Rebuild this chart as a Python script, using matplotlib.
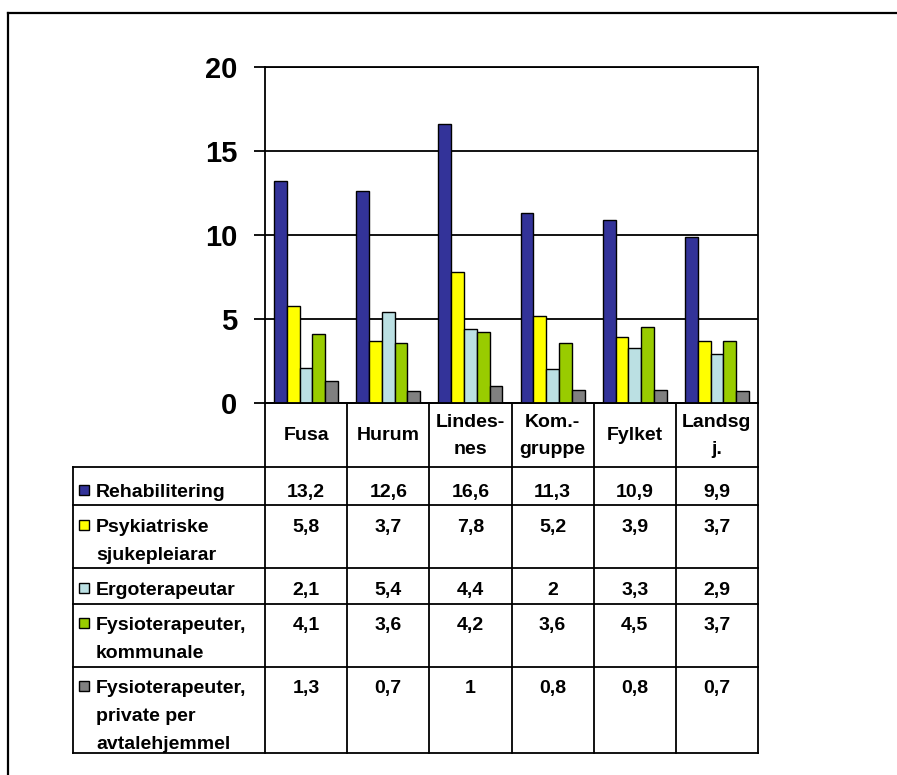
import matplotlib
matplotlib.use("Agg")
import matplotlib.pyplot as plt
from matplotlib.lines import Line2D
from matplotlib.patches import Rectangle
import matplotlib.transforms as mtransforms
import numpy as np

plt.rcParams['font.family'] = ['Liberation Sans', 'DejaVu Sans']

# ---- data ----
categories = ["Fusa", "Hurum", "Lindes-\nnes", "Kom.-\ngruppe", "Fylket", "Landsg\nj."]
series_names = [
    "Rehabilitering",
    "Psykiatriske\nsjukepleiarar",
    "Ergoterapeutar",
    "Fysioterapeuter,\nkommunale",
    "Fysioterapeuter,\nprivate per\navtalehjemmel",
]
rehabilitering = [13.2, 12.6, 16.6, 11.3, 10.9, 9.9]
psykiatriske = [5.8, 3.7, 7.8, 5.2, 3.9, 3.7]
ergoterapeutar = [2.1, 5.4, 4.4, 2, 3.3, 2.9]
fysio_kommunale = [4.1, 3.6, 4.2, 3.6, 4.5, 3.7]
fysio_private = [1.3, 0.7, 1, 0.8, 0.8, 0.7]
series_values = [rehabilitering, psykiatriske, ergoterapeutar, fysio_kommunale, fysio_private]
colors = ["#333399", "#FFFF00", "#BBE0E3", "#99CC00", "#808080"]
yticks = [0, 5, 10, 15, 20]

W, H = 897, 775
fig = plt.figure(figsize=(W / 100, H / 100), dpi=100)


def fy(y):
    return 1 - y / H


def fx(x):
    return x / W


# plot area in pixel coords
ax_l, ax_r, ax_t, ax_b = 265, 758, 67, 403
ax = fig.add_axes([fx(ax_l), fy(ax_b), (ax_r - ax_l) / W, (ax_b - ax_t) / H])

n_cat = len(categories)
n_ser = len(series_values)
x = np.arange(n_cat)
bw = 0.156
for i, (vals, c) in enumerate(zip(series_values, colors)):
    offs = (i - (n_ser - 1) / 2) * bw
    ax.bar(x + offs, vals, width=bw, color=c, edgecolor="black", linewidth=1.0, zorder=3)

ax.set_xlim(-0.5, n_cat - 0.5)
ax.set_ylim(0, 20)
ax.set_yticks(yticks)
ax.set_yticklabels([str(t) for t in yticks], fontsize=21, fontweight="bold")
ax.tick_params(axis="y", direction="out", length=8, width=1.3, pad=12)
ax.tick_params(axis="x", bottom=False, labelbottom=False)
ax.yaxis.grid(True, color="black", linewidth=1.3, zorder=1)
for s in ax.spines.values():
    s.set_linewidth(1.3)
    s.set_color("black")

# ---- data table below the plot ----
lw = 1.3
bt = mtransforms.blended_transform_factory(ax.transData, fig.transFigure)
ft = fig.transFigure


def hline(x0, x1, y):
    fig.add_artist(Line2D([fx(x0), fx(x1)], [fy(y), fy(y)], transform=ft, color="black", lw=lw))


def vline(xd, y0, y1):
    fig.add_artist(Line2D([xd, xd], [fy(y0), fy(y1)], transform=bt, color="black", lw=lw))


label_left = 73
row_edges = [467, 505, 568, 604, 667, 753]
row_base = [497, 532, 595, 630, 693]
line_step = 28
font_kw = dict(fontsize=14, fontweight="bold")

# header row (category names)
hline(ax_l, ax_r, 403)
for k in range(n_cat + 1):
    vline(k - 0.5, 403, row_edges[-1])
for k, cat in enumerate(categories):
    lines = cat.split("\n")
    if len(lines) == 1:
        bases = [440]
    else:
        bases = [427, 454]
    for ln, b in zip(lines, bases):
        fig.text(k, fy(b), ln, transform=bt, ha="center", va="baseline", **font_kw)

# data rows
for y in row_edges:
    hline(label_left, ax_r, y)
fig.add_artist(Line2D([fx(label_left)] * 2, [fy(row_edges[0]), fy(row_edges[-1])],
                      transform=ft, color="black", lw=lw))

for r, (name, vals, c) in enumerate(zip(series_names, series_values, colors)):
    b0 = row_base[r]
    # legend key
    fig.add_artist(Rectangle((fx(79), fy(b0 - 2)), 10 / W, 10 / H, transform=ft,
                             facecolor=c, edgecolor="black", lw=1.0))
    for j, ln in enumerate(name.split("\n")):
        fig.text(fx(96), fy(b0 + j * line_step), ln, ha="left", va="baseline", **font_kw)
    for k, v in enumerate(vals):
        txt = f"{v:g}".replace(".", ",")
        fig.text(k, fy(b0), txt, transform=bt, ha="center", va="baseline", **font_kw)

# outer frame (top and left edges)
fig.add_artist(Line2D([fx(8), 1.0], [fy(13), fy(13)], transform=ft, color="black", lw=1.6))
fig.add_artist(Line2D([fx(8), fx(8)], [fy(13), 0.0], transform=ft, color="black", lw=1.6))

fig.savefig("out.png", dpi=100)
